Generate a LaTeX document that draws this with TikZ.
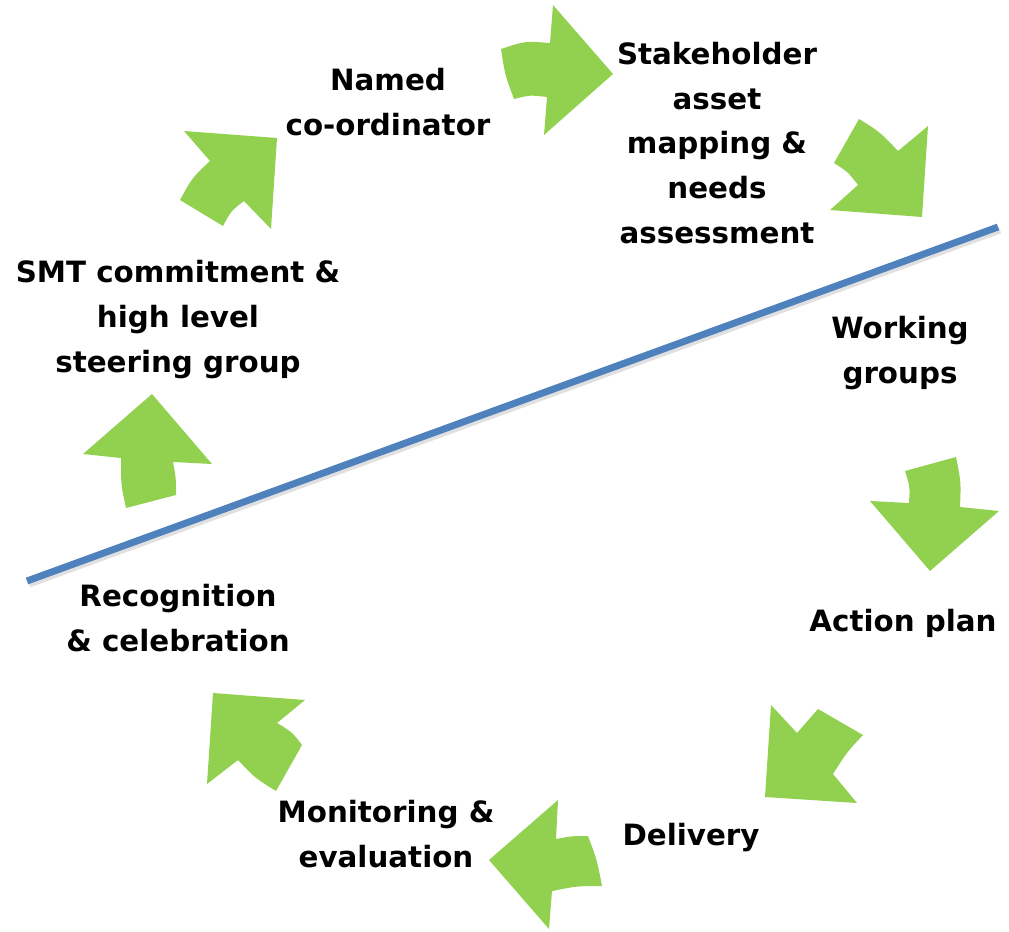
\documentclass[tikz,border=0pt]{standalone}
\usepackage{fontspec}
\setmainfont{DejaVu Sans}
\definecolor{arrowgreen}{HTML}{92D050}
\definecolor{lineblue}{HTML}{4F81BD}
\begin{document}
\begin{tikzpicture}[x=0.75pt,y=-0.75pt,
  cyclearrow/.style={fill=arrowgreen, draw=none},
  lbl/.style={font=\bfseries\fontsize{22}{33.4}\selectfont, align=center, anchor=base, inner sep=0pt},
  divider/.style={draw=lineblue, line width=5.2pt},
  dividershadow/.style={draw=black!12, line width=5.2pt}]
\useasboundingbox (0,0) rectangle (1009,931);

% divider line
\coordinate (L1) at (27,581);
\coordinate (L2) at (998,227);
\coordinate (S1) at (29,584);
\coordinate (S2) at (1000,230);
\draw[dividershadow] (S1) -- (S2);
\draw[divider] (L1) -- (L2);

% arrows
\fill[cyclearrow] (501,49) .. controls (525,41) .. (550,43) -- (553,5) -- (613,74) -- (544,135) -- (547,97) .. controls (530,95) .. (514,99) .. controls (505,75) .. (501,49) -- cycle;
\fill[cyclearrow] (859,119) .. controls (880,132) .. (898,151) -- (928,126) -- (922,217) -- (830,210) -- (858,185) .. controls (848,172) .. (834,163) -- cycle;
\fill[cyclearrow] (905,471) -- (956,457) .. controls (961,482) .. (960,507) -- (999,511) -- (930,571) -- (870,501) -- (909,503) .. controls (910,487) .. (905,471) -- cycle;
\fill[cyclearrow] (771,705) -- (797,733) -- (818,709) -- (863,735) .. controls (847,752) .. (833,774) -- (857,803) -- (765,797) -- cycle;
\fill[cyclearrow] (558,800) -- (556,839) .. controls (572,836) .. (588,836) .. controls (597,860) .. (602,886) .. controls (577,886) .. (552,891) -- (549,929) -- (489,860) -- cycle;
\fill[cyclearrow] (213,693) -- (305,700) -- (277,723) .. controls (292,732) .. (302,745) -- (276,791) .. controls (255,778) .. (238,760) -- (207,784) -- cycle;
\fill[cyclearrow] (152,394) -- (212,464) -- (173,462) .. controls (176,478) .. (176,495) -- (126,508) .. controls (121,485) .. (121,458) -- (83,454) -- cycle;
\fill[cyclearrow] (184,131) -- (277,138) -- (271,229) -- (244,201) .. controls (231,211) .. (223,226) -- (180,200) .. controls (192,178) .. (210,161) -- cycle;

% labels (anchor = baseline of last line)
\node[lbl] (coord) at (388,135) {Named\\co-ordinator};
\node[lbl] (stake) at (717,243) {Stakeholder\\asset\\mapping \&\\needs\\assessment};
\node[lbl] (smt) at (178,372) {SMT commitment \&\\high level\\steering group};
\node[lbl] (work) at (900,383) {Working\\groups};
\node[lbl] (action) at (903,631) {Action plan};
\node[lbl] (deliv) at (691,845) {Delivery};
\node[lbl] (monit) at (386,867) {Monitoring \&\\evaluation};
\node[lbl] (recog) at (178,651) {Recognition\\\& celebration};
\end{tikzpicture}
\end{document}
